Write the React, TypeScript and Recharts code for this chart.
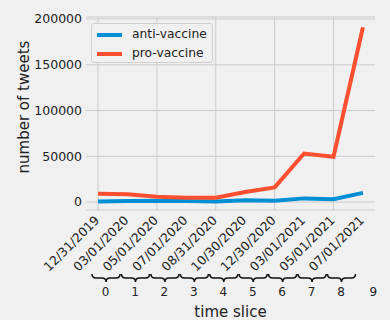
import { CartesianGrid, Line, LineChart, XAxis, YAxis } from "recharts"

const sliceIdx = [0, 1, 2, 3, 4, 5, 6, 7, 8, 9]
const dateLabels = [
  "12/31/2019", "03/01/2020", "05/01/2020", "07/01/2020", "08/31/2020",
  "10/30/2020", "12/30/2020", "03/01/2021", "05/01/2021", "07/01/2021",
]
const antiVaccine = [500, 1000, 1500, 1000, 700, 2000, 1500, 4000, 3000, 10000]
const proVaccine = [9000, 8500, 5800, 4800, 4600, 11000, 16000, 53000, 49500, 191000]
const yTicks = [0, 50000, 100000, 150000, 200000]
const gridX = [0, 2, 4, 6, 8]

const data = sliceIdx.map((i) => ({ idx: i, anti: antiVaccine[i], pro: proVaccine[i] }))

const X_DOMAIN: [number, number] = [-0.41, 9.41]
const FONT = "'DejaVu Sans', sans-serif"

function braceTick(props: any) {
  const { x, y, payload, index } = props
  const x0 = x - 6
  const x1 = x + 22
  const cx = (x0 + x1) / 2
  const top = y + 64
  const mid = top + 4
  const tip = top + 8
  const brace = `M${x0},${top} Q${x0},${mid} ${x0 + 4},${mid} L${cx - 4},${mid} Q${cx},${mid} ${cx},${tip} Q${cx},${mid} ${cx + 4},${mid} L${x1 - 4},${mid} Q${x1},${mid} ${x1},${top}`
  const last = index === sliceIdx.length - 1
  return (
    <g>
      <text
        x={x + 2}
        y={y + 11}
        textAnchor="end"
        transform={`rotate(-45, ${x + 2}, ${y + 11})`}
        fontSize={12.5}
        fontFamily={FONT}
        fill="#222"
      >
        {dateLabels[payload.value]}
      </text>
      {!last && <path d={brace} fill="none" stroke="#111" strokeWidth={1.6} />}
      <text
        x={last ? x + 10.5 : x + 7.5}
        y={y + 86}
        textAnchor="middle"
        fontSize={12}
        fontFamily={FONT}
        fill="#222"
      >
        {payload.value}
      </text>
    </g>
  )
}

function LegendBox() {
  const items = [
    { name: "anti-vaccine", color: "#008fd5" },
    { name: "pro-vaccine", color: "#fc4f30" },
  ]
  return (
    <div
      style={{
        position: "absolute",
        left: 91,
        top: 23,
        width: 120,
        height: 38,
        border: "1px solid #cfcfcf",
        borderRadius: 3,
        background: "#f0f0f0",
        fontFamily: FONT,
        fontSize: 12.3,
        color: "#222",
      }}
    >
      {items.map((it, k) => (
        <div key={it.name} style={{ position: "absolute", left: 0, top: 1 + k * 19, height: 19, width: 120 }}>
          <div style={{ position: "absolute", left: 5, top: 8, width: 25, height: 4, background: it.color }} />
          <span style={{ position: "absolute", left: 40, top: 1, whiteSpace: "nowrap", lineHeight: "16px" }}>
            {it.name}
          </span>
        </div>
      ))}
    </div>
  )
}

export default function App() {
  return (
    <div style={{ position: "absolute", left: 0, top: 0, width: 390, height: 320, background: "#f0f0f0" }}>
      <LineChart width={390} height={320} data={data} margin={{ top: 17, right: 15, left: 0, bottom: 10 }}>
        <CartesianGrid
          stroke="#cbcbcb"
          strokeWidth={1}
          verticalCoordinatesGenerator={({ offset }: any) =>
            gridX.map((v) => offset.left + ((v - X_DOMAIN[0]) / (X_DOMAIN[1] - X_DOMAIN[0])) * offset.width)
          }
        />
        <XAxis
          dataKey="idx"
          type="number"
          domain={X_DOMAIN}
          ticks={sliceIdx}
          interval={0}
          height={100}
          axisLine={false}
          tickLine={false}
          tickSize={0}
          tickMargin={0}
          tick={braceTick}
          label={{ value: "time slice", position: "insideBottom", offset: 0, dy: 7, fontSize: 15, fontFamily: FONT, fill: "#222" }}
        />
        <YAxis
          type="number"
          domain={[-8700, 202200]}
          ticks={yTicks}
          width={86}
          axisLine={false}
          tickLine={false}
          tickSize={0}
          tickMargin={4}
          tick={{ fontSize: 12.5, fontFamily: FONT, fill: "#222" }}
          label={{ value: "number of tweets", angle: -90, position: "insideLeft", offset: 24, dy: 60, fontSize: 15, fontFamily: FONT, fill: "#222" }}
        />
        <Line type="linear" dataKey="anti" stroke="#008fd5" strokeWidth={4} dot={false} isAnimationActive={false} />
        <Line type="linear" dataKey="pro" stroke="#fc4f30" strokeWidth={4} dot={false} isAnimationActive={false} />
      </LineChart>
      <LegendBox />
    </div>
  )
}
